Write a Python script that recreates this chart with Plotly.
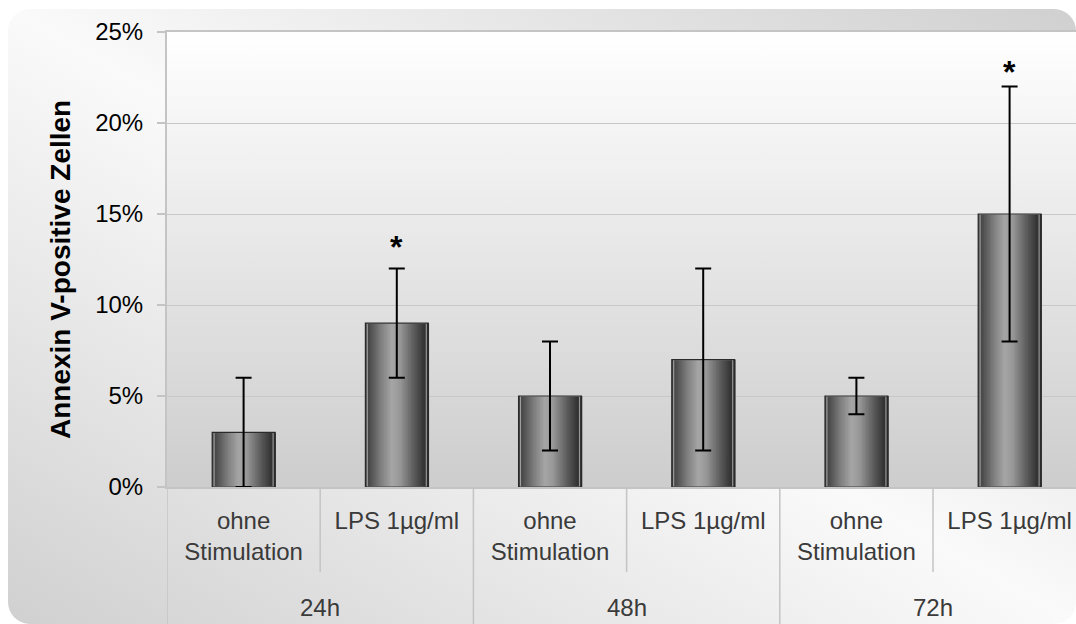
import base64
import numpy as np
import plotly.graph_objects as go

# ---------------- data ----------------
groups = ["24h", "48h", "72h"]
conditions = ["ohne<br>Stimulation", "LPS 1µg/ml"]
means = [3, 9, 5, 7, 5, 15]          # % Annexin V-positive cells
errors = [3, 3, 3, 5, 1, 7]          # symmetric error (%)
significance = ["", "*", "", "", "", "*"]
sig_level = [None, 13.2, None, None, None, 22.8]
y_ticks = [0, 5, 10, 15, 20, 25]
y_tick_labels = ["0%", "5%", "10%", "15%", "20%", "25%"]
y_title = "Annexin V-positive Zellen"

# ---------------- layout geometry ----------------
W, H = 1076, 624
x0_px, y_top_px, y_bot_px = 167, 32, 487
cat_px = 153.2
xdom = [x0_px / W, 1.0]
ydom = [(H - y_bot_px) / H, (H - y_top_px) / H]
n = len(means)
xs = list(range(n))
sub_labels = [conditions[i % len(conditions)] for i in xs]
x_right = -0.5 + (W - x0_px) / cat_px

FONT = "Liberation Sans"


def svg_uri(svg):
    return "data:image/svg+xml;base64," + base64.b64encode(svg.encode()).decode()


bg_svg = f'''<svg xmlns="http://www.w3.org/2000/svg" width="{W}" height="{H}" viewBox="0 0 {W} {H}" preserveAspectRatio="none">
<defs><linearGradient id="g" x1="1" y1="0" x2="0" y2="1">
<stop offset="0" stop-color="#d0d0d0"/><stop offset="0.5" stop-color="#fafafa"/><stop offset="1" stop-color="#d0d0d0"/>
</linearGradient></defs>
<rect x="8" y="9" width="{W - 8}" height="{H - 9}" rx="22" ry="22" fill="url(#g)"/></svg>'''

pw, ph = W - x0_px, y_bot_px - y_top_px
plot_svg = f'''<svg xmlns="http://www.w3.org/2000/svg" width="{pw}" height="{ph}" viewBox="0 0 {pw} {ph}" preserveAspectRatio="none">
<defs><linearGradient id="p" x1="0" y1="0" x2="0" y2="1">
<stop offset="0" stop-color="#ffffff"/><stop offset="1" stop-color="#cdcdcd"/>
</linearGradient></defs>
<rect x="0" y="0" width="{pw}" height="{ph}" fill="url(#p)"/></svg>'''

fig = go.Figure()

# ---------------- bars with horizontal metallic gradient ----------------
BW = 0.41
N = 44
prof_t = [0.0, 0.06, 0.25, 0.42, 0.55, 0.75, 0.92, 1.0]
prof_v = [0x3a, 0x4a, 0x80, 0xa6, 0x98, 0x62, 0x38, 0x2c]
for i in range(N):
    t = (i + 0.5) / N
    v = int(np.interp(t, prof_t, prof_v))
    col = f"rgb({v},{v},{v})"
    fig.add_trace(go.Bar(
        x=xs, y=means, width=BW / N * 1.6, offset=-BW / 2 + i * BW / N,
        marker=dict(color=col, line=dict(width=0)),
        hoverinfo="skip", showlegend=False,
    ))

# light bevel just inside the bar edge
fig.add_trace(go.Bar(
    x=xs, y=means, width=BW * 0.94,
    marker=dict(color="rgba(0,0,0,0)", line=dict(color="rgba(235,235,235,0.55)", width=1.2)),
    hoverinfo="skip", showlegend=False,
))

# outline + error bars
fig.add_trace(go.Bar(
    x=xs, y=means, width=BW,
    marker=dict(color="rgba(0,0,0,0)", line=dict(color="#2a2a2a", width=1.2)),
    error_y=dict(type="data", array=errors, color="black", thickness=2, width=8),
    showlegend=False,
))

# ---------------- annotations ----------------
annotations = []
for i, s in enumerate(significance):
    if s:
        annotations.append(dict(
            x=xs[i], y=sig_level[i], xref="x", yref="y", text=s, showarrow=False,
            font=dict(family=FONT, size=32, color="black", weight="bold"),
            yanchor="middle",
        ))
n_sub = len(conditions)
for g, name in enumerate(groups):
    annotations.append(dict(
        x=g * n_sub + (n_sub - 1) / 2, y=(H - 607) / H, xref="x", yref="paper",
        text=name, showarrow=False, yanchor="middle",
        font=dict(family=FONT, size=24, color="#3a3a3a"),
    ))
annotations.append(dict(
    x=60 / W, y=(H - 270) / H, xref="paper", yref="paper", text=y_title,
    textangle=-90, showarrow=False, xanchor="center", yanchor="middle",
    font=dict(family=FONT, size=28, color="black", weight="bold"),
))

# ---------------- divider lines ----------------
shapes = []
line_style = dict(color="#c4c4c4", width=1.5)
for g in range(len(groups)):
    for k in range(1, n_sub):
        xv = g * n_sub + k - 0.5
        shapes.append(dict(type="line", xref="x", yref="paper", x0=xv, x1=xv,
                           y0=ydom[0], y1=(H - 572) / H, line=line_style))
    xv = g * n_sub - 0.5
    shapes.append(dict(type="line", xref="x", yref="paper", x0=xv, x1=xv,
                       y0=ydom[0], y1=0, line=line_style))

fig.update_layout(
    width=W, height=H,
    margin=dict(l=0, r=0, t=0, b=0, autoexpand=False),
    paper_bgcolor="white",
    plot_bgcolor="rgba(0,0,0,0)",
    barmode="overlay",
    showlegend=False,
    font=dict(family=FONT),
    images=[
        dict(source=svg_uri(bg_svg), xref="paper", yref="paper", x=0, y=1,
             sizex=1, sizey=1, sizing="stretch", layer="below",
             xanchor="left", yanchor="top"),
        dict(source=svg_uri(plot_svg), xref="paper", yref="paper", x=xdom[0], y=ydom[1],
             sizex=xdom[1] - xdom[0], sizey=ydom[1] - ydom[0], sizing="stretch",
             layer="below", xanchor="left", yanchor="top"),
    ],
    xaxis=dict(
        domain=xdom, range=[-0.5, x_right], tickmode="array", tickvals=xs,
        ticktext=sub_labels, showgrid=False, zeroline=False, automargin=False,
        showline=True, linecolor="#c4c4c4", linewidth=2, mirror=True,
        ticks="", tickfont=dict(family=FONT, size=24, color="#3a3a3a"),
        ticklabelstandoff=11,
    ),
    yaxis=dict(
        domain=ydom, range=[0, 25], tickmode="array", tickvals=y_ticks,
        ticktext=y_tick_labels, showgrid=True, gridcolor="#c8c8c8", gridwidth=1,
        zeroline=False, showline=True, linecolor="#c4c4c4", linewidth=2,
        automargin=False,
        ticks="outside", ticklen=8, tickcolor="#c4c4c4", tickwidth=1.5,
        tickfont=dict(family=FONT, size=24, color="black"),
        ticklabelstandoff=9,
    ),
    annotations=annotations,
    shapes=shapes,
)

fig.write_html("out.html")
